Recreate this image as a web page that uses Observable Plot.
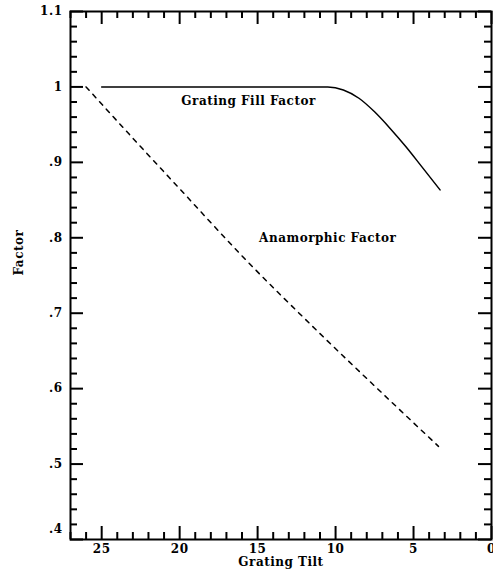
<!DOCTYPE html>
<html><head><meta charset="utf-8">
<script src="https://cdn.jsdelivr.net/npm/d3@7"></script>
<script src="https://cdn.jsdelivr.net/npm/@observablehq/plot@0.6"></script>
<style>body{margin:0;background:#fff}</style>
</head><body><div id="chart"></div>
<script>
// Data
const fillTilt   = [25, 10.5, 9.5, 8.5, 7.5, 6.5, 5.5, 4.5, 3.3];
const fillFactor = [1.0, 1.0, 0.996, 0.985, 0.967, 0.945, 0.921, 0.895, 0.8635];
const anaTilt    = [26, 23, 20, 16, 11.3, 6.5, 3.4];
const anaFactor  = [1.0, 0.932, 0.865, 0.776, 0.679, 0.584, 0.5235];
const xMajor = [25, 20, 15, 10, 5, 0];
const xMinor = d3.range(0, 28).filter(d => d % 5 !== 0);
const yMajor = [0.4, 0.5, 0.6, 0.7, 0.8, 0.9, 1.0, 1.1];
const yMinor = d3.range(21, 55).filter(i => i % 5 !== 0).map(i => i / 50);
const yLabels = [".4", ".5", ".6", ".7", ".8", ".9", "1", "1.1"];

const fill = fillTilt.map((t, i) => ({tilt: t, factor: fillFactor[i]}));
const ana = anaTilt.map((t, i) => ({tilt: t, factor: anaFactor[i]}));
const yTicks = yMajor.map((v, i) => ({v, label: yLabels[i]}));

const W = 493, H = 575, mL = 70, mR = 2, mT = 11, mB = 36;
const fw = W - mL - mR, fh = H - mT - mB;
const MAJ = 13, MIN = 7;

const chart = Plot.plot({
  width: W, height: H,
  marginLeft: mL, marginRight: mR, marginTop: mT, marginBottom: mB,
  style: {fontFamily: "DejaVu Serif", fontSize: "12px", fontWeight: "bold", letterSpacing: "0.5px", background: "#fff", color: "#000", overflow: "visible"},
  x: {domain: [27, 0], axis: null},
  y: {domain: [0.4, 1.1], axis: null},
  marks: [
    // ticks
    Plot.ruleX(xMajor, {x: d => d, insetTop: fh - MAJ, strokeWidth: 2}),
    Plot.ruleX(xMajor, {x: d => d, insetBottom: fh - MAJ, strokeWidth: 2}),
    Plot.ruleX(xMinor, {x: d => d, insetTop: fh - MIN, strokeWidth: 2}),
    Plot.ruleX(xMinor, {x: d => d, insetBottom: fh - MIN, strokeWidth: 2}),
    Plot.ruleY(yMajor, {y: d => d, insetRight: fw - MAJ, strokeWidth: 2}),
    Plot.ruleY(yMajor, {y: d => d, insetLeft: fw - MAJ, strokeWidth: 2}),
    Plot.ruleY(yMinor, {y: d => d, insetRight: fw - MIN, strokeWidth: 2}),
    Plot.ruleY(yMinor, {y: d => d, insetLeft: fw - MIN, strokeWidth: 2}),
    Plot.frame({strokeWidth: 2}),
    // curves
    Plot.line(fill, {x: "tilt", y: "factor", stroke: "#000", strokeWidth: 1.5, curve: "monotone-x"}),
    Plot.line(ana, {x: "tilt", y: "factor", stroke: "#000", strokeWidth: 1.5, strokeDasharray: "4.5,5.5", curve: "monotone-x"}),
    // tick labels
    Plot.text(xMajor, {x: d => d, text: d => String(d), frameAnchor: "bottom", dy: 13}),
    Plot.text(yTicks.filter(d => d.v !== 0.4), {y: "v", text: "label", frameAnchor: "left", dx: -8, textAnchor: "end"}),
    Plot.text(yTicks.filter(d => d.v === 0.4), {y: "v", text: "label", frameAnchor: "left", dx: -8, dy: -10, textAnchor: "end"}),
    // axis titles
    Plot.text(["Grating Tilt"], {text: d => d, frameAnchor: "bottom", dy: 26}),
    Plot.text(["Factor"], {text: d => d, frameAnchor: "left", dx: -51, rotate: -90}),
    // annotations
    Plot.text(["Grating Fill Factor"], {text: d => d, x: 15.58, y: 0.981}),
    Plot.text(["Anamorphic Factor"], {text: d => d, x: 10.5, y: 0.799})
  ]
});
document.getElementById("chart").appendChild(chart);
</script>
</body></html>
